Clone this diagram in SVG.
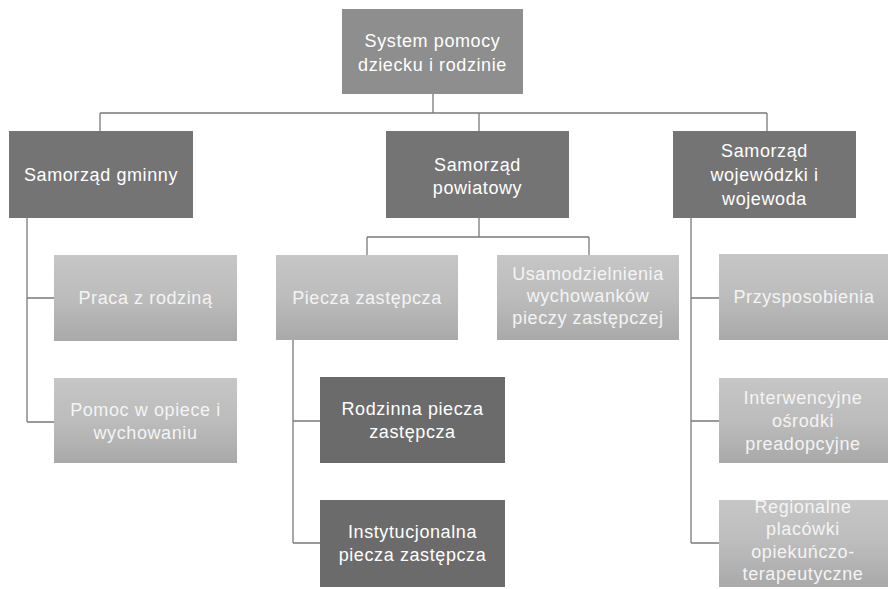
<svg xmlns="http://www.w3.org/2000/svg" width="888" height="589" viewBox="0 0 888 589">
<defs>
<linearGradient id="lg" x1="0" y1="0" x2="0" y2="1">
<stop offset="0" stop-color="#c6c6c6"/>
<stop offset="0.5" stop-color="#bcbcbc"/>
<stop offset="1" stop-color="#a9a9a9"/>
</linearGradient>
<style>
text{font-family:"Liberation Sans","DejaVu Sans",sans-serif;font-size:18px;letter-spacing:0.6px;text-anchor:middle;fill:#ffffff}
.top{fill:#8e8e8e}
.l1{fill:#747474}
.l2{fill:url(#lg)}
.l3{fill:#6b6b6b}
.lt{fill:#f4f4f4}
.con{stroke:#7a7a7a;stroke-width:1.3;fill:none}
</style>
</defs>
<rect width="888" height="589" fill="#ffffff"/>
<g id="connectors">
<path class="con" d="M433 94V113M100 113H767M100 113V131M479 113V131M767 113V131"/>
<path class="con" d="M27 218V422M27 298H54M27 422H54"/>
<path class="con" d="M479 218V237M367 237H589M367 237V255M589 237V255"/>
<path class="con" d="M293 340V543M293 421H320M293 543H320"/>
<path class="con" d="M691 218V543M691 298H719M691 421H719M691 543H719"/>
</g>
<g id="n-system">
<rect class="top" x="342" y="9" width="181" height="85"/>
<text x="432.5" y="47">System pomocy</text>
<text x="432.5" y="71">dziecku i rodzinie</text>
</g>
<g id="n-gminny">
<rect class="l1" x="9" y="131" width="184" height="87"/>
<text x="101" y="181">Samorząd gminny</text>
</g>
<g id="n-powiatowy">
<rect class="l1" x="386" y="131" width="183" height="87"/>
<text x="477.5" y="171">Samorząd</text>
<text x="477.5" y="194">powiatowy</text>
</g>
<g id="n-wojewodzki">
<rect class="l1" x="673" y="131" width="183" height="87"/>
<text x="764.5" y="157">Samorząd</text>
<text x="764.5" y="181">wojewódzki i</text>
<text x="764.5" y="205">wojewoda</text>
</g>
<g id="n-praca">
<rect class="l2" x="54" y="255" width="183" height="86"/>
<text class="lt" x="145.5" y="304">Praca z rodziną</text>
</g>
<g id="n-pomoc">
<rect class="l2" x="54" y="378" width="183" height="85"/>
<text class="lt" x="145.5" y="416">Pomoc w opiece i</text>
<text class="lt" x="145.5" y="439">wychowaniu</text>
</g>
<g id="n-piecza">
<rect class="l2" x="276" y="255" width="182" height="85"/>
<text class="lt" x="367" y="304">Piecza zastępcza</text>
</g>
<g id="n-usamodzielnienia">
<rect class="l2" x="497" y="255" width="182" height="85"/>
<text class="lt" x="588" y="280">Usamodzielnienia</text>
<text class="lt" x="588" y="302">wychowanków</text>
<text class="lt" x="588" y="324">pieczy zastępczej</text>
</g>
<g id="n-rodzinna">
<rect class="l3" x="320" y="377" width="185" height="86"/>
<text x="412.5" y="415">Rodzinna piecza</text>
<text x="412.5" y="438">zastępcza</text>
</g>
<g id="n-instytucjonalna">
<rect class="l3" x="320" y="500" width="185" height="87"/>
<text x="412.5" y="538">Instytucjonalna</text>
<text x="412.5" y="561">piecza zastępcza</text>
</g>
<g id="n-przysposobienia">
<rect class="l2" x="719" y="254" width="170" height="86"/>
<text class="lt" x="804" y="303">Przysposobienia</text>
</g>
<g id="n-interwencyjne">
<rect class="l2" x="719" y="378" width="170" height="85"/>
<text class="lt" x="803" y="404">Interwencyjne</text>
<text class="lt" x="803" y="427">ośrodki</text>
<text class="lt" x="803" y="450">preadopcyjne</text>
</g>
<g id="n-regionalne">
<rect class="l2" x="719" y="500" width="170" height="87"/>
<text class="lt" x="803" y="513">Regionalne</text>
<text class="lt" x="803" y="535">placówki</text>
<text class="lt" x="803" y="558">opiekuńczo-</text>
<text class="lt" x="803" y="580">terapeutyczne</text>
</g>
</svg>
